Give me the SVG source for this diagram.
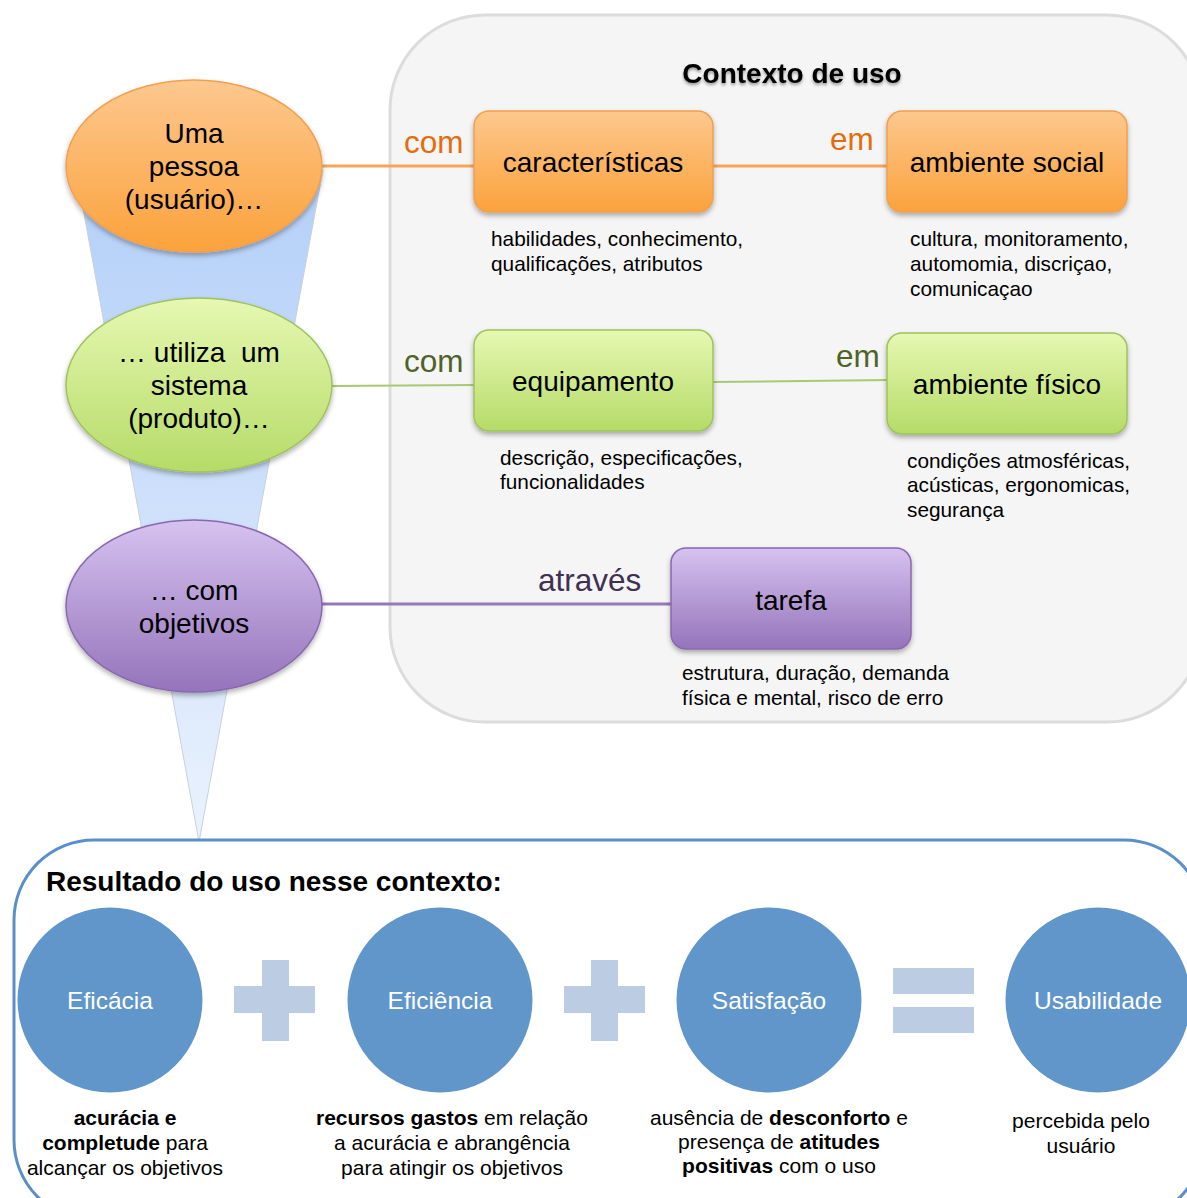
<svg xmlns="http://www.w3.org/2000/svg" width="1187" height="1198" viewBox="0 0 1187 1198">
<style>
text{font-family:"Liberation Sans",Arial,sans-serif;fill:#000}
.node{font-size:28px;text-anchor:middle}
.desc{font-size:20.8px}
.res{font-size:21px;text-anchor:middle}
.circ{font-size:24.5px;fill:#fff;text-anchor:middle}
.lbl{font-size:31.5px}
.b{font-weight:bold}
</style>
<defs>
<linearGradient id="gFun" x1="0" y1="0" x2="0" y2="1"><stop offset="0" stop-color="#b3cff8"/><stop offset="1" stop-color="#eaf2fd"/></linearGradient>
<linearGradient id="gOr" x1="0" y1="0" x2="0" y2="1"><stop offset="0" stop-color="#fdc88e"/><stop offset="1" stop-color="#fba23c"/></linearGradient>
<linearGradient id="gGr" x1="0" y1="0" x2="0" y2="1"><stop offset="0" stop-color="#e6f8b2"/><stop offset="1" stop-color="#b6db68"/></linearGradient>
<linearGradient id="gPu" x1="0" y1="0" x2="0" y2="1"><stop offset="0" stop-color="#d6c2f0"/><stop offset="1" stop-color="#9574bb"/></linearGradient>
<filter id="sh" x="-20%" y="-20%" width="140%" height="150%"><feDropShadow dx="0" dy="3" stdDeviation="2.5" flood-color="#000" flood-opacity="0.3"/></filter>
<filter id="tsh" x="-10%" y="-30%" width="120%" height="180%"><feDropShadow dx="0" dy="2" stdDeviation="1.5" flood-color="#000" flood-opacity="0.4"/></filter>
</defs>

<g id="funnel"><polygon points="76,170 323,170 199,842" fill="url(#gFun)" stroke="#c8d0da" stroke-width="1"/></g>

<g id="context">
<rect x="390" y="15" width="812" height="707" rx="95" fill="#f5f5f5" stroke="#dcdcdc" stroke-width="3"/>
<text x="792" y="83" font-size="28" font-weight="bold" text-anchor="middle" filter="url(#tsh)">Contexto de uso</text>
</g>

<g id="connectors">
<line x1="320" y1="166" x2="476" y2="166" stroke="#f6a55a" stroke-width="3"/>
<line x1="712" y1="166" x2="889" y2="166" stroke="#f6a55a" stroke-width="3"/>
<line x1="330" y1="386" x2="476" y2="385" stroke="#a9c971" stroke-width="2"/>
<line x1="712" y1="382" x2="889" y2="380" stroke="#a9c971" stroke-width="2"/>
<line x1="320" y1="604" x2="673" y2="604" stroke="#9678b6" stroke-width="3"/>
<text class="lbl" x="404" y="153" style="fill:#e46c0a">com</text>
<text class="lbl" x="830" y="150" style="fill:#e46c0a">em</text>
<text class="lbl" x="404" y="372" style="fill:#4f6228">com</text>
<text class="lbl" x="836" y="367" style="fill:#4f6228">em</text>
<text class="lbl" x="538" y="591" style="fill:#403152">através</text>
</g>

<g id="n-pessoa">
<ellipse cx="194" cy="166" rx="128" ry="86" fill="url(#gOr)" stroke="#f0a050" stroke-width="1.5" filter="url(#sh)"/>
<text class="node" x="194" y="143">Uma</text>
<text class="node" x="194" y="176">pessoa</text>
<text class="node" x="194" y="209">(usuário)…</text>
</g>
<g id="n-sistema">
<ellipse cx="199" cy="385" rx="133" ry="87" fill="url(#gGr)" stroke="#9fc25e" stroke-width="1.5" filter="url(#sh)"/>
<text class="node" x="199" y="362">… utiliza&#160; um</text>
<text class="node" x="199" y="395">sistema</text>
<text class="node" x="199" y="428">(produto)…</text>
</g>
<g id="n-objetivos">
<ellipse cx="194" cy="606" rx="128" ry="86" fill="url(#gPu)" stroke="#8a68ae" stroke-width="1.5" filter="url(#sh)"/>
<text class="node" x="194" y="600">… com</text>
<text class="node" x="194" y="633">objetivos</text>
</g>

<g id="n-caracteristicas">
<rect x="474" y="111" width="239" height="101" rx="15" fill="url(#gOr)" stroke="#f0a050" stroke-width="1.5" filter="url(#sh)"/>
<text class="node" x="593" y="172">características</text>
<text class="desc" x="491" y="246">habilidades, conhecimento,</text>
<text class="desc" x="491" y="271">qualificações, atributos</text>
</g>
<g id="n-ambiente-social">
<rect x="887" y="111" width="240" height="101" rx="15" fill="url(#gOr)" stroke="#f0a050" stroke-width="1.5" filter="url(#sh)"/>
<text class="node" x="1007" y="172">ambiente social</text>
<text class="desc" x="910" y="246">cultura, monitoramento,</text>
<text class="desc" x="910" y="271">automomia, discriçao,</text>
<text class="desc" x="910" y="296">comunicaçao</text>
</g>
<g id="n-equipamento">
<rect x="474" y="330" width="239" height="101" rx="15" fill="url(#gGr)" stroke="#9fc25e" stroke-width="1.5" filter="url(#sh)"/>
<text class="node" x="593" y="391">equipamento</text>
<text class="desc" x="500" y="465">descrição, especificações,</text>
<text class="desc" x="500" y="489">funcionalidades</text>
</g>
<g id="n-ambiente-fisico">
<rect x="887" y="333" width="240" height="101" rx="15" fill="url(#gGr)" stroke="#9fc25e" stroke-width="1.5" filter="url(#sh)"/>
<text class="node" x="1007" y="394">ambiente físico</text>
<text class="desc" x="907" y="468">condições atmosféricas,</text>
<text class="desc" x="907" y="492">acústicas, ergonomicas,</text>
<text class="desc" x="907" y="517">segurança</text>
</g>
<g id="n-tarefa">
<rect x="671" y="548" width="240" height="101" rx="15" fill="url(#gPu)" stroke="#8a68ae" stroke-width="1.5" filter="url(#sh)"/>
<text class="node" x="791" y="610">tarefa</text>
<text class="desc" x="682" y="680">estrutura, duração, demanda</text>
<text class="desc" x="682" y="705">física e mental, risco de erro</text>
</g>

<g id="resultado">
<rect x="14" y="840" width="1190" height="380" rx="80" fill="#fff" stroke="#5b8fc9" stroke-width="3"/>
<text x="46" y="891" font-size="28" font-weight="bold">Resultado do uso nesse contexto:</text>
</g>

<g id="ops" fill="#bccde3">
<rect x="234" y="986" width="81" height="27"/><rect x="262" y="960" width="27" height="81"/>
<rect x="564" y="986" width="81" height="27"/><rect x="591" y="960" width="27" height="81"/>
<rect x="893" y="968" width="81" height="26"/><rect x="893" y="1007" width="81" height="26"/>
</g>

<g id="n-eficacia">
<circle cx="110" cy="1000" r="92.5" fill="#6096c9"/>
<text class="circ" x="110" y="1009">Eficácia</text>
<text class="res" x="125" y="1125"><tspan class="b">acurácia e</tspan></text>
<text class="res" x="125" y="1150"><tspan class="b">completude</tspan> para</text>
<text class="res" x="125" y="1175">alcançar os objetivos</text>
</g>
<g id="n-eficiencia">
<circle cx="440" cy="1000" r="92.5" fill="#6096c9"/>
<text class="circ" x="440" y="1009">Eficiência</text>
<text class="res" x="452" y="1125"><tspan class="b">recursos gastos</tspan> em relação</text>
<text class="res" x="452" y="1150">a acurácia e abrangência</text>
<text class="res" x="452" y="1175">para atingir os objetivos</text>
</g>
<g id="n-satisfacao">
<circle cx="769" cy="1000" r="92.5" fill="#6096c9"/>
<text class="circ" x="769" y="1009">Satisfação</text>
<text class="res" x="779" y="1125">ausência de <tspan class="b">desconforto</tspan> e</text>
<text class="res" x="779" y="1149">presença de <tspan class="b">atitudes</tspan></text>
<text class="res" x="779" y="1173"><tspan class="b">positivas</tspan> com o uso</text>
</g>
<g id="n-usabilidade">
<circle cx="1098" cy="1000" r="92.5" fill="#6096c9"/>
<text class="circ" x="1098" y="1009">Usabilidade</text>
<text class="res" x="1081" y="1128">percebida pelo</text>
<text class="res" x="1081" y="1153">usuário</text>
</g>
</svg>
